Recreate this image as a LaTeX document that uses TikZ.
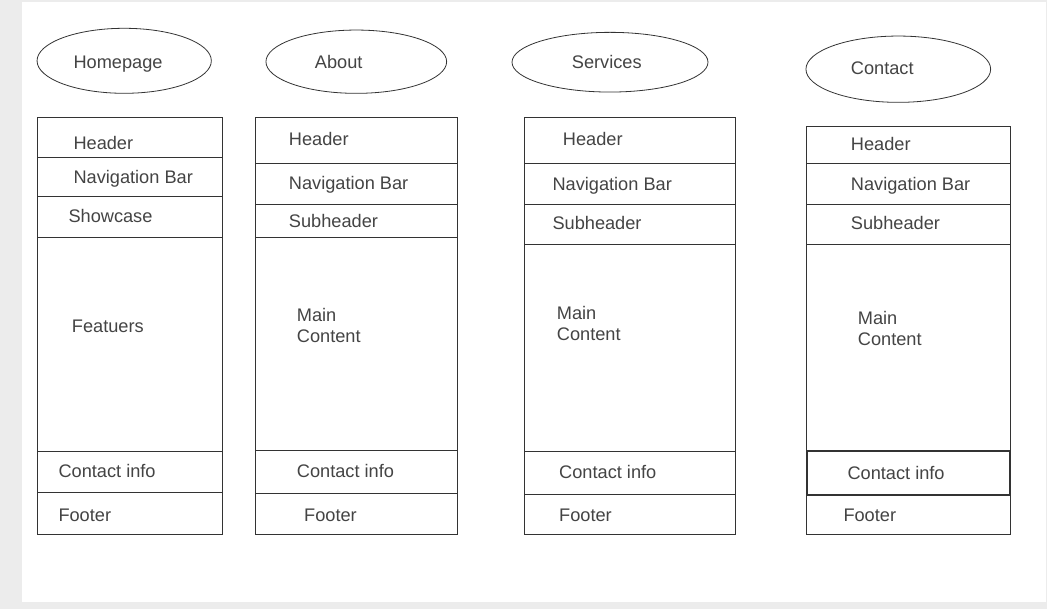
\documentclass[tikz,border=0pt]{standalone}
\usepackage{fontspec}
\setmainfont{Liberation Sans}
\usetikzlibrary{shapes.geometric}
\definecolor{bggray}{RGB}{236,236,236}
\definecolor{linec}{RGB}{51,51,51}
\definecolor{textc}{RGB}{68,68,68}
\tikzset{
  frame/.style={draw=linec, line width=0.9pt},
  thickframe/.style={draw=linec, line width=1.8pt},
  pageoval/.style={ellipse, draw=linec, line width=0.8pt, inner sep=0pt},
  lbl/.style={anchor=base west, inner sep=0pt, text=textc, font=\fontsize{18.2}{21}\selectfont},
  mlbl/.style={anchor=base west, inner sep=0pt, text=textc, align=left, font=\fontsize{18.2}{21}\selectfont}
}
\begin{document}
\begin{tikzpicture}[x=1pt,y=-1pt]
\useasboundingbox (0,0) rectangle (1047,609);
\fill[bggray] (0,0) rectangle (1047,609);
\fill[white] (21.5,1.7) rectangle (1045.5,601.7);

% ---------- ellipses ----------
\node[pageoval, minimum width=174.3, minimum height=65] (e1) at (124.2,60.8) {};
\node[pageoval, minimum width=180.7, minimum height=63.3] (e2) at (356.3,61.7) {};
\node[pageoval, minimum width=196, minimum height=59.7] (e3) at (610,62.2) {};
\node[pageoval, minimum width=184.7, minimum height=66.3] (e4) at (898.3,69.2) {};
\node[lbl] (t1) at (73.3,68.3) {Homepage};
\node[lbl] (t2) at (314.7,68.3) {About};
\node[lbl] (t3) at (571.7,68.3) {Services};
\node[lbl] (t4) at (850.7,75) {Contact};

% ---------- column 1 ----------
\draw[frame] (37.3,117.3) rectangle (222.3,157.3);
\draw[frame] (37.3,157.3) rectangle (222.3,196.3);
\draw[frame] (37.3,196.3) rectangle (222.3,237.7);
\draw[frame] (37.3,237.7) rectangle (222.3,451.3);
\draw[frame] (37.3,451.3) rectangle (222.3,492.3);
\draw[frame] (37.3,492.3) rectangle (222.3,534);
\node[lbl] (a1) at (73.3,149.3) {Header};
\node[lbl] (a2) at (73.3,183.3) {Navigation Bar};
\node[lbl] (a3) at (68.3,222.7) {Showcase};
\node[lbl] (a4) at (71.7,332.3) {Featuers};
\node[lbl] (a5) at (58.3,477.7) {Contact info};
\node[lbl] (a6) at (58.3,521.3) {Footer};

% ---------- column 2 ----------
\draw[frame] (255.5,117.7) rectangle (457.5,163.3);
\draw[frame] (255.5,163.3) rectangle (457.5,204.3);
\draw[frame] (255.5,204.3) rectangle (457.5,237.3);
\draw[frame] (255.5,237.3) rectangle (457.5,450.3);
\draw[frame] (255.5,450.3) rectangle (457.5,493.3);
\draw[frame] (255.5,493.3) rectangle (457.5,534);
\node[lbl] (b1) at (288.7,146) {Header};
\node[lbl] (b2) at (288.7,190) {Navigation Bar};
\node[lbl] (b3) at (288.7,227.3) {Subheader};
\node[mlbl] (b4) at (296.7,342.3) {Main\\Content};
\node[lbl] (b5) at (296.7,477.7) {Contact info};
\node[lbl] (b6) at (304,521.3) {Footer};

% ---------- column 3 ----------
\draw[frame] (524.3,117.3) rectangle (735.7,163.3);
\draw[frame] (524.3,163.3) rectangle (735.7,204.3);
\draw[frame] (524.3,204.3) rectangle (735.7,244.3);
\draw[frame] (524.3,244.3) rectangle (735.7,451.3);
\draw[frame] (524.3,451.3) rectangle (735.7,494.3);
\draw[frame] (524.3,494.3) rectangle (735.7,534.3);
\node[lbl] (c1) at (562.7,146) {Header};
\node[lbl] (c2) at (552.3,190.7) {Navigation Bar};
\node[lbl] (c3) at (552.3,230) {Subheader};
\node[mlbl] (c4) at (556.7,341) {Main\\Content};
\node[lbl] (c5) at (559,478.3) {Contact info};
\node[lbl] (c6) at (559,521) {Footer};

% ---------- column 4 ----------
\draw[frame] (806.5,126.7) rectangle (1010.3,163.3);
\draw[frame] (806.5,163.3) rectangle (1010.3,204.3);
\draw[frame] (806.5,204.3) rectangle (1010.3,244.3);
\draw[frame] (806.5,244.3) rectangle (1010.3,451.3);
\draw[frame] (806.5,494.7) rectangle (1010.3,534.3);
\draw[thickframe] (807.3,451.3) rectangle (1009.7,494.7);
\node[lbl] (d1) at (850.7,151) {Header};
\node[lbl] (d2) at (850.7,190.7) {Navigation Bar};
\node[lbl] (d3) at (850.7,230) {Subheader};
\node[mlbl] (d4) at (857.7,346) {Main\\Content};
\node[lbl] (d5) at (847.3,479) {Contact info};
\node[lbl] (d6) at (843.3,521) {Footer};
\end{tikzpicture}
\end{document}
